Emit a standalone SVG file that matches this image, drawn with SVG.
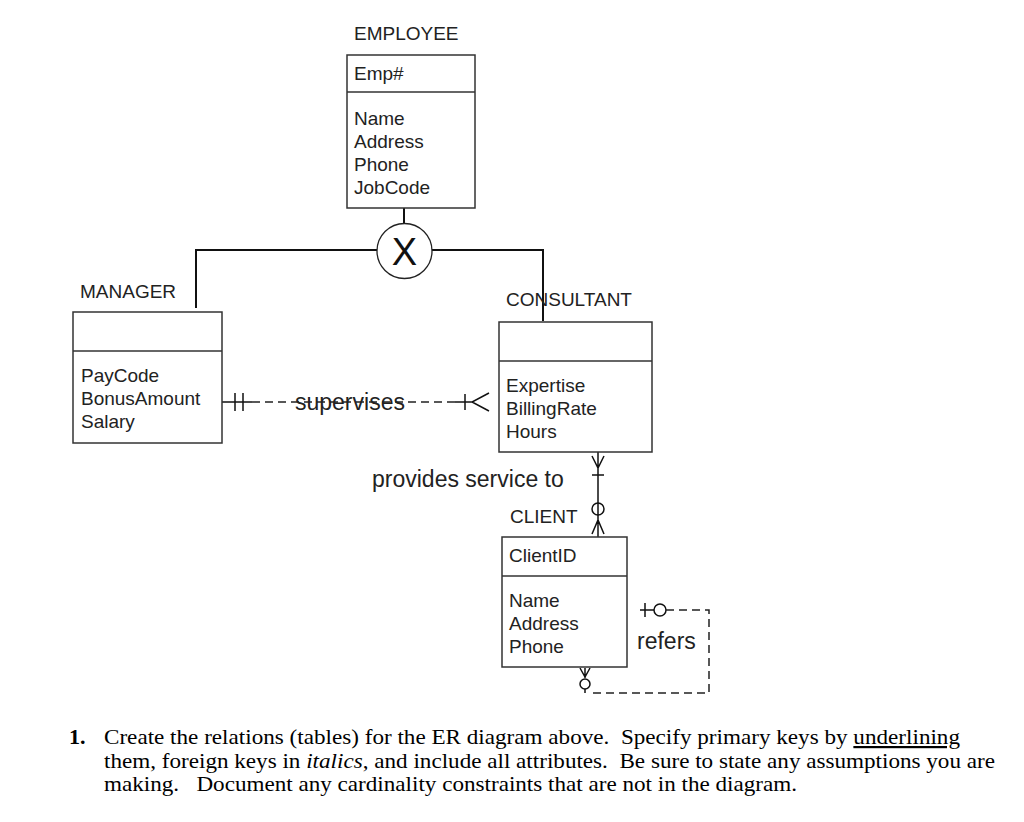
<svg xmlns="http://www.w3.org/2000/svg" width="1024" height="822" viewBox="0 0 1024 822">
<style>
.box{fill:#fff;stroke:#333;stroke-width:1.5}
.div{stroke:#333;stroke-width:1.5}
.t{font-family:"Liberation Sans",Arial,sans-serif;font-size:19px;fill:#222}
.rel{font-family:"Liberation Sans",Arial,sans-serif;font-size:23px;fill:#222}
.ln{fill:none;stroke:#111;stroke-width:2}
.dash{fill:none;stroke:#222;stroke-width:1.5;stroke-dasharray:8 5}
.sym{fill:none;stroke:#111;stroke-width:1.5}
.q{font-family:"Liberation Serif","Times New Roman",serif;font-size:22px;fill:#000;white-space:pre}
</style>
<rect width="1024" height="822" fill="#fff"/>
<g id="connectors">
  <path class="ln" d="M404,208 V224"/>
  <path class="ln" d="M377,250 H196 V308"/>
  <path class="ln" d="M432,250 H543 V321"/>
  <!-- supervises -->
  <path class="sym" d="M222,402 H252 M235,393 V411 M243,393 V411"/>
  <path class="dash" d="M252,402 H455"/>
  <text class="rel" x="295" y="410">supervises</text>
  <path class="sym" d="M455,402 H472 M465,394 V410 M489,393 L472,402 L489,411"/>
  <!-- provides service to -->
  <path class="sym" d="M598,452 V537 M592,456 L598,468 L604,456 M592,475 H604 M592,534 L598,520 L604,534"/>
  <circle class="sym" cx="598" cy="509" r="6" fill="#fff"/>
  <text class="rel" x="372" y="487">provides service to</text>
  <!-- refers -->
  <path class="sym" d="M640,610 H654 M645,603 V617 M580,668 L585,677 L590,668 M585,668 V678 M585,689 V693"/>
  <circle class="sym" cx="660" cy="610" r="6" fill="#fff"/>
  <circle class="sym" cx="585" cy="684" r="5" fill="#fff"/>
  <path class="dash" d="M666,610 H709 V693 H593"/>
  <text class="rel" x="637" y="649">refers</text>
</g>
<g id="disjoint">
  <circle cx="404.5" cy="251" r="27.5" fill="#fff" stroke="#222" stroke-width="1.3"/>
  <text x="404.5" y="265" font-family="Liberation Sans,Arial,sans-serif" font-size="38" text-anchor="middle" fill="#111">X</text>
</g>
<g id="employee">
  <text class="t" x="354" y="40">EMPLOYEE</text>
  <rect class="box" x="347" y="55" width="128" height="153"/>
  <line class="div" x1="347" y1="92" x2="475" y2="92"/>
  <text class="t" x="354" y="80">Emp#</text>
  <text class="t" x="354" y="125">Name</text>
  <text class="t" x="354" y="148">Address</text>
  <text class="t" x="354" y="171">Phone</text>
  <text class="t" x="354" y="194">JobCode</text>
</g>
<g id="manager">
  <text class="t" x="80" y="298">MANAGER</text>
  <rect class="box" x="73" y="312" width="149" height="131"/>
  <line class="div" x1="73" y1="351" x2="222" y2="351"/>
  <text class="t" x="81" y="382">PayCode</text>
  <text class="t" x="81" y="405">BonusAmount</text>
  <text class="t" x="81" y="428">Salary</text>
</g>
<g id="consultant">
  <rect class="box" x="499" y="322" width="153" height="130"/>
  <line class="div" x1="499" y1="361" x2="652" y2="361"/>
  <text class="t" x="506" y="392">Expertise</text>
  <text class="t" x="506" y="415">BillingRate</text>
  <text class="t" x="506" y="438">Hours</text>
  <text class="t" x="506" y="306">CONSULTANT</text>
</g>
<g id="client">
  <text class="t" x="510" y="523">CLIENT</text>
  <rect class="box" x="502" y="537" width="125" height="130"/>
  <line class="div" x1="502" y1="576" x2="627" y2="576"/>
  <text class="t" x="509" y="562">ClientID</text>
  <text class="t" x="509" y="607">Name</text>
  <text class="t" x="509" y="630">Address</text>
  <text class="t" x="509" y="653">Phone</text>
</g>
<g id="question">
  <text class="q" x="69" y="744" font-weight="bold">1.</text>
  <text class="q" x="104" y="744" textLength="856" lengthAdjust="spacingAndGlyphs">Create the relations (tables) for the ER diagram above.  Specify primary keys by <tspan text-decoration="underline">underlining</tspan></text>
  <text class="q" x="104" y="768" textLength="891" lengthAdjust="spacingAndGlyphs">them, foreign keys in <tspan font-style="italic">italics</tspan>, and include all attributes.  Be sure to state any assumptions you are</text>
  <text class="q" x="104" y="791" textLength="693" lengthAdjust="spacingAndGlyphs">making.   Document any cardinality constraints that are not in the diagram.</text>
</g>
</svg>
